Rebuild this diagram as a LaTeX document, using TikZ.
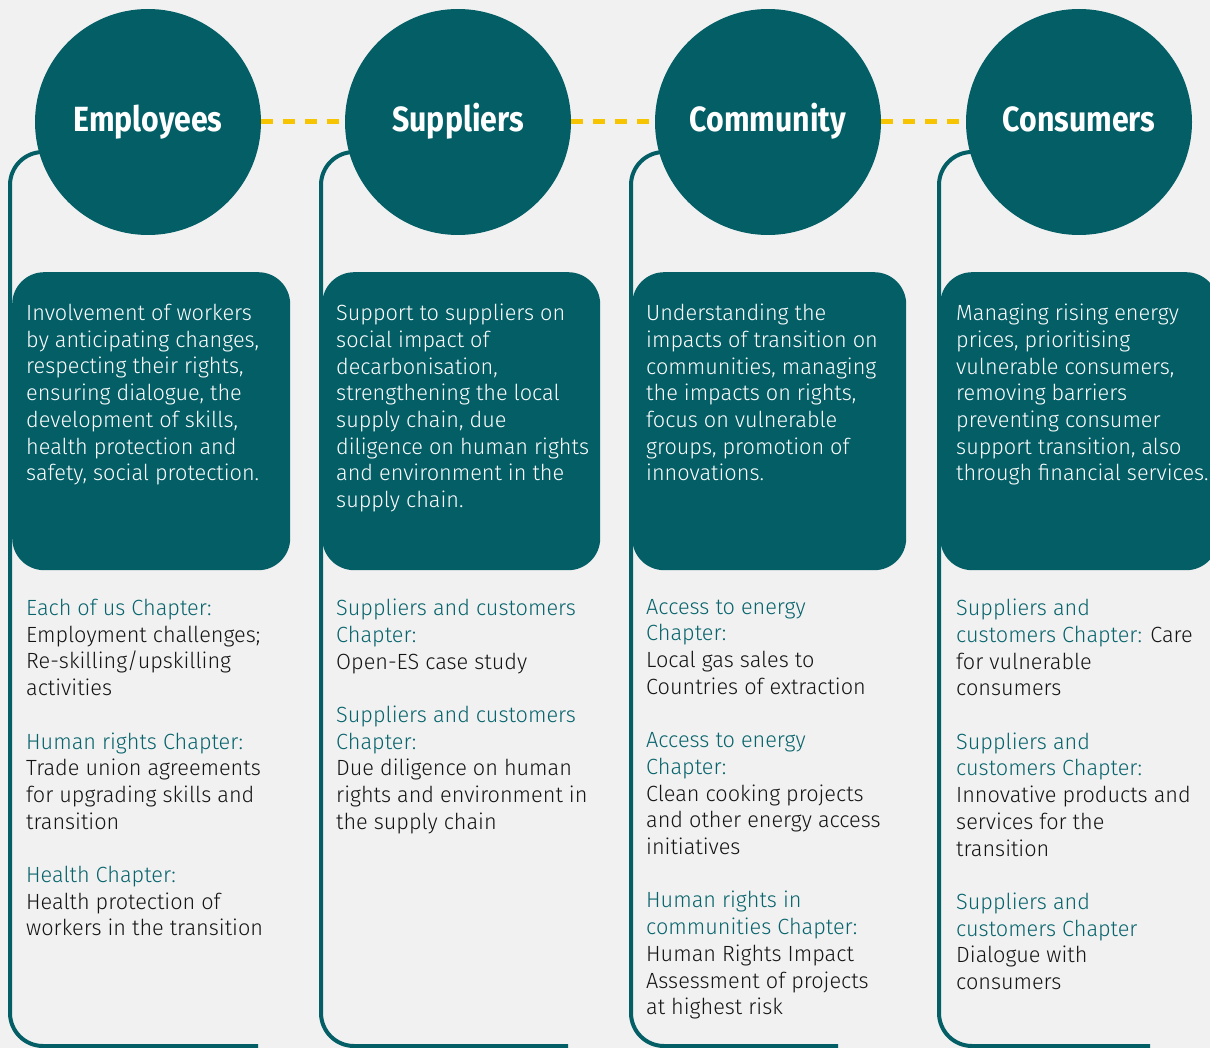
\documentclass[tikz,border=0pt]{standalone}
\usepackage{fontspec}
\setmainfont{Fira Sans}
\newfontfamily\bodyfont{Fira Sans}[UprightFont={* Light}, FakeStretch=0.985]
\newfontfamily\headfont{Fira Sans}[FakeStretch=0.865]
\definecolor{tealdk}{RGB}{3,94,102}
\definecolor{tealtx}{RGB}{8,100,108}
\definecolor{ybar}{RGB}{246,196,0}
\definecolor{bgc}{RGB}{241,241,241}
\definecolor{txtc}{RGB}{20,20,20}
\tikzset{
  outl/.style={draw=tealdk, line width=4pt, rounded corners=33pt},
  head/.style={circle, fill=tealdk, minimum size=226pt, inner sep=0pt, text=white,
    text height=24.5pt, text depth=4.5pt,
    font=\headfont\bfseries\fontsize{35}{40}\selectfont},
  ydash/.style={draw=ybar, line width=5pt, dash pattern=on 12pt off 10pt},
  box/.style={fill=tealdk, rounded corners=32pt, minimum width=278pt, minimum height=298pt, anchor=north west, inner sep=0pt},
  boxtxt/.style={anchor=north west, inner sep=0pt, align=left, text=white,
    font=\bodyfont\fontsize{22}{26.7}\selectfont},
  lowtxt/.style={anchor=north west, inner sep=0pt, align=left, text=txtc,
    font=\bodyfont\fontsize{22}{26.7}\selectfont}
}
\newcommand{\chp}[1]{\textcolor{tealtx}{#1}}
\begin{document}
\begin{tikzpicture}[x=1pt,y=-1pt]
\fill[bgc] (0,0) rectangle (1210,1048);
\useasboundingbox (0,0) rectangle (1210,1048);
% outlines
\draw[outl] (148,152) -- (10,152) -- (10,1046) -- (258,1046);
\draw[outl] (458,152) -- (321,152) -- (321,1046) -- (568,1046);
\draw[outl] (768,152) -- (631,152) -- (631,1046) -- (838,1046);
\draw[outl] (1079,152) -- (939,152) -- (939,1046) -- (1150,1046);
% circles
\node[head] (c1) at (148,122) {Employees};
\node[head] (c2) at (458,122) {Suppliers};
\node[head] (c3) at (768,122) {Community};
\node[head] (c4) at (1079,122) {Consumers};
\draw[ydash] (c1.east) -- (c2.west);
\draw[ydash] (c2.east) -- (c3.west);
\draw[ydash] (c3.east) -- (c4.west);
% boxes
\node[box] (b1) at (12,272) {};
\node[box] (b2) at (322,272) {};
\node[box, minimum width=274pt] (b3) at (632,272) {};
\node[box] (b4) at (940,272) {};
\node[boxtxt] (t1) at (26,304) {Involvement of workers\\by anticipating changes,\\respecting their rights,\\ensuring dialogue, the\\development of skills,\\health protection and\\safety, social protection.};
\node[boxtxt] (t2) at (336,304) {Support to suppliers on\\social impact of\\decarbonisation,\\strengthening the local\\supply chain, due\\diligence on human rights\\and environment in the\\supply chain.};
\node[boxtxt] (t3) at (646,304) {Understanding the\\impacts of transition on\\communities, managing\\the impacts on rights,\\focus on vulnerable\\groups, promotion of\\innovations.};
\node[boxtxt] (t4) at (956,304) {Managing rising energy\\prices, prioritising\\vulnerable consumers,\\removing barriers\\preventing consumer\\support transition, also\\through financial services.};
% lower texts
\node[lowtxt] (l1) at (26,599) {\chp{Each of us Chapter:}\\Employment challenges;\\Re-skilling/upskilling\\activities\\[26.7pt]\chp{Human rights Chapter:}\\Trade union agreements\\for upgrading skills and\\transition\\[26.7pt]\chp{Health Chapter:}\\Health protection of\\workers in the transition};
\node[lowtxt] (l2) at (336,599) {\chp{Suppliers and customers}\\\chp{Chapter:}\\Open-ES case study\\[26.7pt]\chp{Suppliers and customers}\\\chp{Chapter:}\\Due diligence on human\\rights and environment in\\the supply chain};
\node[lowtxt] (l3) at (646,599) {\chp{Access to energy}\\\chp{Chapter:}\\Local gas sales to\\Countries of extraction\\[26.7pt]\chp{Access to energy}\\\chp{Chapter:}\\Clean cooking projects\\and other energy access\\initiatives\\[26.7pt]\chp{Human rights in}\\\chp{communities Chapter:}\\Human Rights Impact\\Assessment of projects\\at highest risk};
\node[lowtxt] (l4) at (956,599) {\chp{Suppliers and}\\\chp{customers Chapter:} Care\\for vulnerable\\consumers\\[26.7pt]\chp{Suppliers and}\\\chp{customers Chapter:}\\Innovative products and\\services for the\\transition\\[26.7pt]\chp{Suppliers and}\\\chp{customers Chapter}\\Dialogue with\\consumers};
\end{tikzpicture}
\end{document}
